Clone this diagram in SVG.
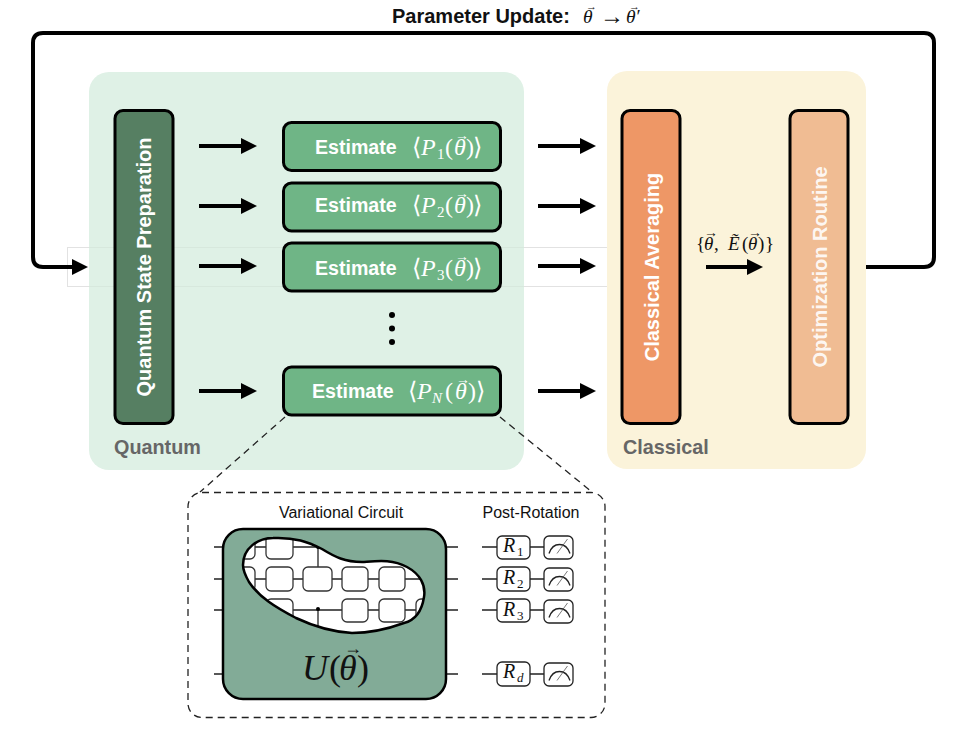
<svg xmlns="http://www.w3.org/2000/svg" width="976" height="730" viewBox="0 0 976 730">
<style>
text{font-family:"Liberation Sans",Arial,sans-serif}
.m,.mi{font-family:"Liberation Serif","DejaVu Serif",serif}
.mi{font-style:italic}
.box{stroke:#000;stroke-width:3}
.b{font-weight:700}
.est{font-weight:700;font-size:19.600px;fill:#fff}
.side{font-weight:700;font-size:20px;fill:#fff;text-anchor:middle}
.lab{font-weight:700;font-size:19.800px;fill:#666}
.emath{font-size:24px;fill:#fff}
.sub{font-size:15px}
.va{font-size:14px;font-style:normal}
.conn{stroke:#000;stroke-width:4;fill:none;marker-end:url(#ah)}
.wire{stroke:#222;stroke-width:1.3;fill:none}
.gate{fill:#fff;stroke:#333;stroke-width:1.3}
.rgate{fill:#fff;stroke:#222;stroke-width:1.3}
.small{font-size:16px;fill:#111;text-anchor:middle}
.rm{font-size:20px;fill:#111}
.rs{font-size:13px}
</style>
<defs>
<marker id="ah" markerUnits="userSpaceOnUse" markerWidth="16" markerHeight="16" refX="8" refY="8" orient="auto"><path d="M0 0L16 8L0 16z" fill="#000"/></marker>
<clipPath id="blob"><path id="blobp" d="M243 565C243 548 258 538 273 538C295 537 308 542 322 549C335 557 345 562 362 562C378 561 392 559 407 567C420 574 426 585 424 597C422 610 416 620 404 623C385 630 370 633 352 633C335 632 315 627 296 618C275 607 259 597 249 582C245 575 243 570 243 565Z"/></clipPath>
<g id="meter"><rect class="rgate" x="0" y="0" width="29" height="23" rx="5"/><path class="wire" d="M5 17.500Q8 8.500 15.500 8.500Q23 8.500 26 17.500"/><path d="M13 17.500L23.500 3" stroke="#555" stroke-width="0.8" fill="none"/></g>
</defs>

<g id="guide" fill="none" stroke="#e2e2e2" stroke-width="1"><rect x="67.500" y="247.500" width="540" height="39"/></g>

<g id="quantum"><rect x="89" y="72" width="435" height="398" rx="20" fill="#dff1e6"/><text class="lab" x="114" y="454">Quantum</text></g>
<g id="classical"><rect x="607" y="71" width="259" height="398" rx="20" fill="#fbf3da"/><text class="lab" x="623" y="454">Classical</text></g>

<g id="guide2" fill="none" stroke="#000" stroke-opacity="0.035"><path d="M89 247.500H524M89 286.500H524"/></g>

<g id="prep"><rect class="box" x="115" y="110.500" width="58" height="313" rx="8" fill="#567f62"/><text class="side" transform="translate(151,267) rotate(-90)">Quantum State Preparation</text></g>

<g id="est1"><rect class="box" x="283.500" y="122.500" width="217" height="48" rx="8" fill="#6fb586"/><text class="est" x="315" y="154">Estimate</text><text class="m emath" y="155"><tspan x="412">⟨</tspan><tspan class="mi" x="421">P</tspan><tspan class="sub" x="437" y="159">1</tspan><tspan x="445" y="155">(</tspan><tspan class="mi" x="454">θ</tspan><tspan class="va" x="455" y="139.500">→</tspan><tspan x="466" y="155">)</tspan><tspan x="473">⟩</tspan></text></g>
<g id="est2"><rect class="box" x="283.500" y="183" width="217" height="48" rx="8" fill="#6fb586"/><text class="est" x="315" y="212">Estimate</text><text class="m emath" y="213"><tspan x="412">⟨</tspan><tspan class="mi" x="421">P</tspan><tspan class="sub" x="437" y="217">2</tspan><tspan x="445" y="213">(</tspan><tspan class="mi" x="454">θ</tspan><tspan class="va" x="455" y="197.500">→</tspan><tspan x="466" y="213">)</tspan><tspan x="473">⟩</tspan></text></g>
<g id="est3"><rect class="box" x="283.500" y="243" width="217" height="48" rx="8" fill="#6fb586"/><text class="est" x="315" y="275">Estimate</text><text class="m emath" y="276"><tspan x="412">⟨</tspan><tspan class="mi" x="421">P</tspan><tspan class="sub" x="437" y="280">3</tspan><tspan x="445" y="276">(</tspan><tspan class="mi" x="454">θ</tspan><tspan class="va" x="455" y="260.500">→</tspan><tspan x="466" y="276">)</tspan><tspan x="473">⟩</tspan></text></g>
<g id="estN"><rect class="box" x="283.500" y="367" width="217" height="48" rx="8" fill="#6fb586"/><text class="est" x="312" y="398">Estimate</text><text class="m emath" y="399"><tspan x="408">⟨</tspan><tspan class="mi" x="417">P</tspan><tspan class="mi sub" x="432" y="403">N</tspan><tspan x="445" y="399">(</tspan><tspan class="mi" x="455">θ</tspan><tspan class="va" x="456" y="383.500">→</tspan><tspan x="468" y="399">)</tspan><tspan x="476">⟩</tspan></text></g>

<g id="dots" fill="#000"><circle cx="392" cy="315" r="3"/><circle cx="392" cy="328.500" r="3"/><circle cx="392" cy="342" r="3"/></g>

<g id="avg"><rect class="box" x="622" y="110.500" width="58" height="313" rx="8" fill="#ee9766"/><text class="side" transform="translate(659,267) rotate(-90)">Classical Averaging</text></g>
<g id="opt"><rect class="box" x="790" y="110.500" width="58" height="313" rx="8" fill="#f0bc93"/><text class="side" transform="translate(827,267) rotate(-90)" fill-opacity="0.9">Optimization Routine</text></g>

<g id="connectors">
<path class="conn" d="M199 146H249"/><path class="conn" d="M199 206H249"/><path class="conn" d="M199 266H249"/><path class="conn" d="M199 391H249"/>
<path class="conn" d="M538 146H588"/><path class="conn" d="M538 206H588"/><path class="conn" d="M538 266H588"/><path class="conn" d="M538 391H588"/>
<path class="conn" d="M706 267H755"/>
<path class="conn" d="M866 267H924Q934 267 934 257V43Q934 33 924 33H43Q33 33 33 43V257Q33 267 43 267H80"/>
<path d="M285 417L200 492M500 417L592 492" stroke="#222" stroke-width="1.300" stroke-dasharray="7 5" fill="none"/>
</g>

<g id="title"><text class="b" x="392" y="23" font-size="20" fill="#111">Parameter Update:</text><text class="m" y="23" font-size="19.500" fill="#111"><tspan class="mi" x="583">θ</tspan><tspan font-size="11" font-style="normal" x="586" y="10">→</tspan><tspan font-size="24" x="600" y="24">→</tspan><tspan class="mi" x="626" y="23">θ</tspan><tspan font-size="11" font-style="normal" x="629" y="10">→</tspan><tspan x="636.500" y="23">′</tspan></text></g>

<g id="setlabel"><text class="m" y="250" font-size="19" fill="#111"><tspan x="696">{</tspan><tspan class="mi" x="704">θ</tspan><tspan class="va" font-size="13" x="704" y="237">→</tspan><tspan x="714" y="250">,</tspan><tspan class="mi" x="728">Ẽ</tspan><tspan x="742">(</tspan><tspan class="mi" x="748">θ</tspan><tspan class="va" font-size="13" x="748" y="237">→</tspan><tspan x="758" y="250">)</tspan><tspan x="765">}</tspan></text></g>

<g id="zoom">
<rect x="188" y="492.500" width="417" height="225" rx="14" fill="none" stroke="#222" stroke-width="1.300" stroke-dasharray="7 5"/>
<text class="small" x="341" y="518">Variational Circuit</text>
<text class="small" x="531" y="518">Post-Rotation</text>
</g>

<g id="circuit">
<path class="wire" d="M214 547H223M214 579H223M214 610H223M214 674H223M446 547H458M446 579H458M446 610H458M446 674H458"/>
<rect x="223" y="529" width="223" height="170" rx="20" fill="#82ab97" stroke="#000" stroke-width="2.500"/>
<use href="#blobp" fill="#fff"/>
<g clip-path="url(#blob)">
<path class="wire" d="M240 547H330M240 579H425M240 610H425M318 547V579M318 610V640"/>
<rect class="gate" x="230" y="530" width="25" height="29" rx="5"/><rect class="gate" x="266" y="530" width="27" height="29" rx="5"/>
<rect class="gate" x="230" y="567" width="25" height="24" rx="5"/><rect class="gate" x="266" y="567" width="27" height="24" rx="5"/><rect class="gate" x="303" y="567" width="29" height="24" rx="5"/><rect class="gate" x="342" y="567" width="26" height="24" rx="5"/><rect class="gate" x="379" y="567" width="26" height="24" rx="5"/>
<rect class="gate" x="266" y="599" width="27" height="40" rx="5"/><rect class="gate" x="342" y="599" width="26" height="23" rx="5"/><rect class="gate" x="379" y="599" width="26" height="23" rx="5"/><rect class="gate" x="416" y="599" width="26" height="23" rx="5"/>
<circle cx="318" cy="547" r="2"/><circle cx="318" cy="609" r="2"/>
</g>
<use href="#blobp" fill="none" stroke="#000" stroke-width="2.500"/>
<text class="m" y="680" font-size="36" fill="#111"><tspan class="mi" x="302">U</tspan><tspan x="329">(</tspan><tspan class="mi" x="339">θ</tspan><tspan font-size="18" x="344" y="653.500">→</tspan><tspan x="357" y="680">)</tspan></text>
</g>

<g id="post">
<path class="wire" d="M482 547H544M482 579H544M482 610H544M482 674H544"/>
<rect class="rgate" x="497" y="536" width="33" height="23" rx="5"/><text class="m rm" y="552"><tspan class="mi" x="503">R</tspan><tspan class="rs" x="517" y="556">1</tspan></text>
<rect class="rgate" x="497" y="567" width="33" height="24" rx="5"/><text class="m rm" y="584"><tspan class="mi" x="503">R</tspan><tspan class="rs" x="517" y="588">2</tspan></text>
<rect class="rgate" x="497" y="599" width="33" height="23" rx="5"/><text class="m rm" y="616"><tspan class="mi" x="503">R</tspan><tspan class="rs" x="517" y="620">3</tspan></text>
<rect class="rgate" x="497" y="662" width="33" height="24" rx="5"/><text class="m rm" y="678"><tspan class="mi" x="503">R</tspan><tspan class="mi rs" x="517" y="682">d</tspan></text>
<use href="#meter" x="544" y="536"/><use href="#meter" x="544" y="568"/><use href="#meter" x="544" y="600"/><use href="#meter" x="544" y="663"/>
</g>
</svg>
